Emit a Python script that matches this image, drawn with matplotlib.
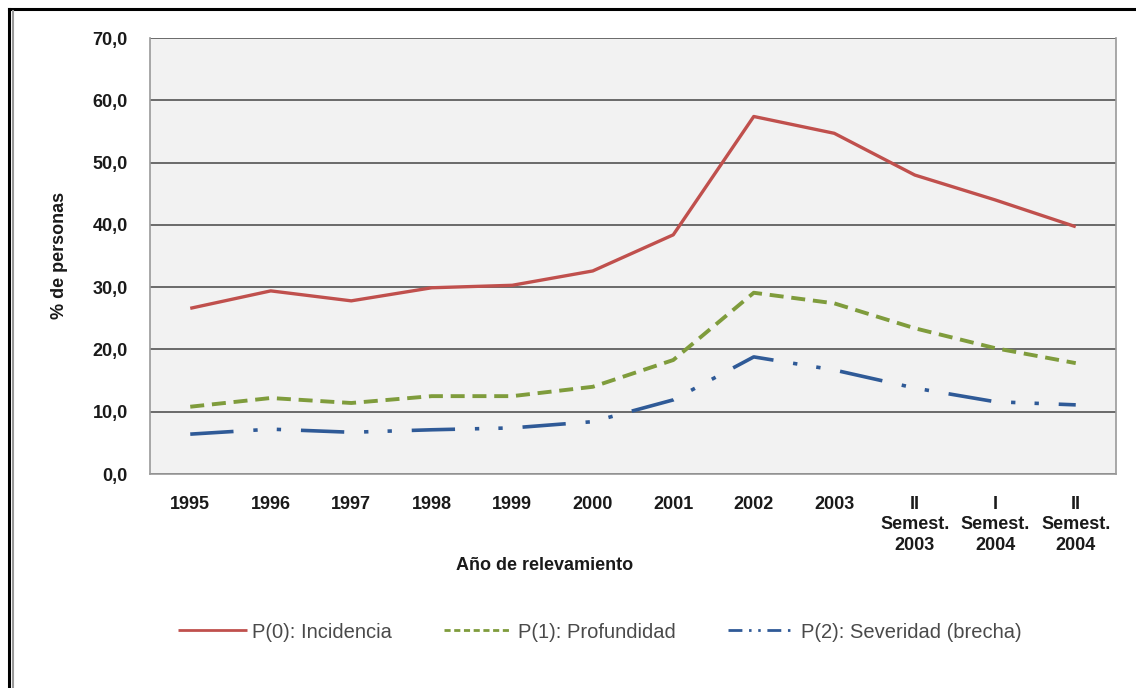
import matplotlib
matplotlib.use("Agg")
import matplotlib.pyplot as plt
from matplotlib.lines import Line2D

categories = ["1995", "1996", "1997", "1998", "1999", "2000", "2001", "2002", "2003",
              "II\nSemest.\n2003", "I\nSemest.\n2004", "II\nSemest.\n2004"]
p0_incidencia = [26.6, 29.4, 27.8, 29.9, 30.3, 32.6, 38.4, 57.4, 54.7, 48.0, 44.0, 39.7]
p1_profundidad = [10.8, 12.2, 11.4, 12.5, 12.5, 14.0, 18.3, 29.1, 27.4, 23.4, 20.2, 17.8]
p2_severidad = [6.4, 7.2, 6.7, 7.1, 7.4, 8.4, 11.9, 18.8, 16.7, 13.8, 11.6, 11.1]
series_labels = ["P(0): Incidencia", "P(1): Profundidad", "P(2): Severidad (brecha)"]
yticks = [0, 10, 20, 30, 40, 50, 60, 70]

plt.rcParams['font.family'] = ['Liberation Sans', 'DejaVu Sans']

W, H = 1136, 688
fig = plt.figure(figsize=(W / 100, H / 100), dpi=100)
fig.patch.set_facecolor("white")
ax = fig.add_axes([150 / W, 1 - 474 / H, (1116 - 150) / W, (474 - 38) / H])
ax.set_facecolor("#f2f2f2")

x = list(range(len(categories)))
ax.plot(x, p0_incidencia, color="#c0504d", lw=2.4, solid_capstyle="butt",
        label=series_labels[0], zorder=3)
ax.plot(x, p1_profundidad, color="#7f9c3c", lw=2.8, linestyle=(0, (3.6, 2.0)),
        label=series_labels[1], zorder=3)
ax.plot(x, p2_severidad, color="#2f5a97", lw=2.6,
        linestyle=(0, (12, 5.5, 1.2, 5.3, 1.2, 5.5)),
        label=series_labels[2], zorder=3)

ax.set_xlim(-0.5, len(categories) - 0.5)
ax.set_ylim(0, 70)
ax.set_yticks(yticks)
ax.set_yticklabels([f"{v:.1f}".replace(".", ",") for v in yticks])
ax.set_xticks(x)
ax.set_xticklabels(categories, linespacing=1.25)
ax.tick_params(axis="both", length=0, labelsize=13, colors="#1a1a1a")
ax.tick_params(axis="y", pad=16)
ax.tick_params(axis="x", pad=16)
for lab in ax.get_xticklabels():
    lab.set_fontweight("bold")
    lab.set_verticalalignment("top")
for lab in ax.get_yticklabels():
    lab.set_fontweight("bold")

ax.grid(axis="y", color="#6a6a6a", lw=1.4, zorder=1)
ax.set_axisbelow(True)
ax.spines["top"].set_visible(False)
for side in ["left", "right", "bottom"]:
    ax.spines[side].set_color("#9a9a9a")
    ax.spines[side].set_linewidth(1.2)

fig.text(60 / W, 1 - 255 / H, "% de personas", rotation=90, ha="center", va="center",
         fontsize=13, fontweight="bold", color="#1a1a1a")
fig.text(545 / W, 1 - 565 / H, "Año de relevamiento", ha="center", va="center",
         fontsize=13, fontweight="bold", color="#1a1a1a")

leg = ax.legend(loc="center", bbox_to_anchor=(600 / W, 1 - 632 / H),
                bbox_transform=fig.transFigure, ncol=3, frameon=False,
                fontsize=14.5, handlelength=3.4, handletextpad=0.25,
                columnspacing=2.6, labelcolor="#4a4a4a")
leg_lines = leg.get_lines()
for h in leg_lines:
    h.set_linewidth(2.0)
leg_lines[1].set_linestyle((0, (2.2, 1.3)))
leg_lines[2].set_linestyle((0, (5, 2.4, 0.9, 2.4, 0.9, 2.4)))

# outer frame
fig.add_artist(Line2D([9 / W, 1], [1 - 9 / H, 1 - 9 / H], transform=fig.transFigure,
                      color="black", lw=2.2))
fig.add_artist(Line2D([9 / W, 9 / W], [0, 1 - 9 / H], transform=fig.transFigure,
                      color="black", lw=2.2))
fig.add_artist(Line2D([13 / W, 13 / W], [0, 1 - 11 / H], transform=fig.transFigure,
                      color="#9a9a9a", lw=1.5))

fig.savefig("out.png", dpi=100)
